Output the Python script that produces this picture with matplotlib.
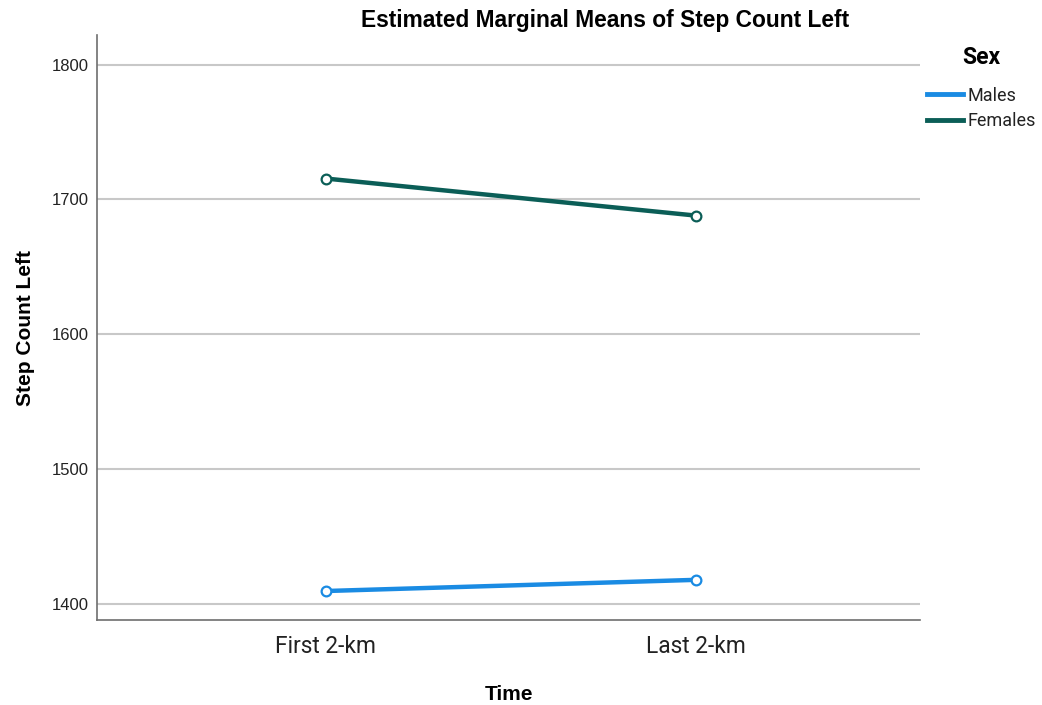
import matplotlib
matplotlib.use("Agg")
import matplotlib.pyplot as plt
from matplotlib.lines import Line2D

times = ["First 2-km", "Last 2-km"]
males = [1409.5, 1417.8]
females = [1715.5, 1688.0]
yticks = [1400, 1500, 1600, 1700, 1800]

c_m = "#1a8be3"
c_f = "#0b5e57"

plt.rcParams['font.family'] = ['Liberation Sans', 'DejaVu Sans']
fig = plt.figure(figsize=(10.42, 7.05), dpi=100)
ax = fig.add_axes([97/1042, 85/705, (920-97)/1042, (620-35)/705])

x = list(range(len(times)))
ax.plot(x, males, color=c_m, lw=3.2, marker='o', ms=7, mfc='white', mec=c_m, mew=1.6, zorder=3)
ax.plot(x, females, color=c_f, lw=3.2, marker='o', ms=7, mfc='white', mec=c_f, mew=1.6, zorder=3)

ax.set_xlim(-0.618, 1.604)
ax.set_ylim(1388, 1822)
ax.set_yticks(yticks)
ax.set_yticklabels([str(v) for v in yticks], fontsize=12, color='#222222')
ax.set_xticks(x)
ax.set_xticklabels(times, fontsize=16.4, color='#222222', family=['Roboto', 'DejaVu Sans'])
ax.tick_params(axis='y', length=0, pad=6)
ax.tick_params(axis='x', length=0, pad=11)
ax.yaxis.grid(True, color='#c8c8c8', lw=1.5)
ax.set_axisbelow(True)
for s in ['top', 'right']:
    ax.spines[s].set_visible(False)
for s in ['left', 'bottom']:
    ax.spines[s].set_color('#6e6e6e')
    ax.spines[s].set_linewidth(1.2)

ax.set_xlabel("Time", fontsize=15, fontweight='bold', labelpad=19)
ax.set_ylabel("Step Count Left", fontsize=15, fontweight='bold', labelpad=12)
fig.text(605/1042, 1 - 20/705, "Estimated Marginal Means of Step Count Left",
         fontsize=16.4, fontweight='bold', ha='center', va='center')

fig.text(981/1042, 1 - 58/705, "Sex", fontsize=16.5, fontweight='bold',
         ha='center', va='center', family=['Roboto', 'DejaVu Sans'])
handles = [Line2D([], [], color=c_m, lw=3.5), Line2D([], [], color=c_f, lw=3.5)]
leg = fig.legend(handles, ["Males", "Females"], loc='upper left',
                 bbox_to_anchor=(923/1042, 1 - 83/705), frameon=False,
                 prop={'family': ['Roboto', 'DejaVu Sans'], 'size': 13},
                 handlelength=2.0, handletextpad=0.25, labelspacing=0.4,
                 borderaxespad=0, borderpad=0.2)
for t in leg.get_texts():
    t.set_color('#222222')

fig.savefig("out.png", dpi=100)
